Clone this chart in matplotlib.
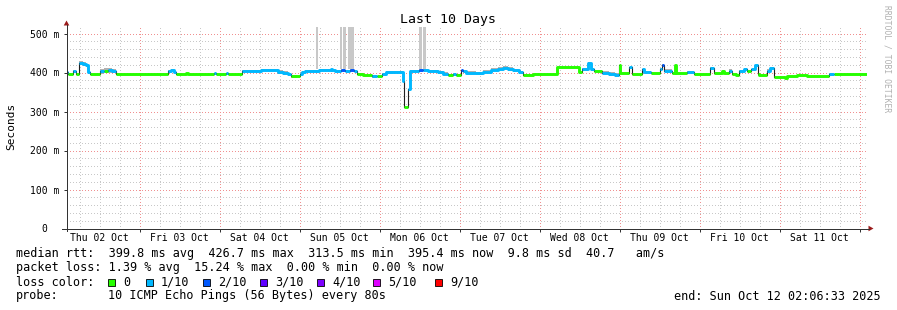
import numpy as np
import matplotlib
matplotlib.use('Agg')
import matplotlib.pyplot as plt
from matplotlib.lines import Line2D
from matplotlib.patches import Polygon, Rectangle

plt.rcParams['font.family'] = 'DejaVu Sans Mono'
plt.rcParams['lines.scale_dashes'] = False

# ===== Data (time in hours since Thu 02 Oct 00:00) =====
t_start = 2.1
t_end = 242.1

seg_t = [2.11, 2.41, 3.91, 4.81, 5.92, 6.91, 7.81, 8.41, 9.01, 12.01,
         13.21, 14.41, 15.61, 16.81, 32.41, 33.31, 34.21, 34.81, 37.96, 38.41,
         46.36, 46.81, 49.81, 50.41, 54.61, 60.31, 65.41, 66.91, 68.41, 69.31,
         71.11, 72.01, 72.61, 73.51, 77.71, 81.31, 81.61, 82.51, 84.31, 85.51,
         87.01, 88.21, 89.11, 90.91, 93.61, 95.11, 96.61, 97.81, 99.91, 102.91,
         103.21, 104.41, 105.01, 107.71, 108.91, 110.41, 113.41, 114.91, 116.41, 117.91,
         118.81, 120.31, 120.91, 121.81, 124.81, 126.91, 129.31, 131.41, 132.91, 134.41,
         135.91, 137.71, 138.91, 141.91, 149.11, 153.91, 155.71, 156.61, 158.41, 159.31,
         160.21, 162.61, 164.71, 166.51, 167.71, 168.01, 170.71, 171.61, 174.61, 175.21,
         177.31, 180.01, 180.61, 181.21, 183.61, 184.51, 184.81, 188.11, 190.21, 195.01,
         196.21, 198.61, 199.21, 200.71, 201.61, 202.81, 203.71, 205.21, 206.11, 207.31,
         208.51, 209.41, 209.71, 212.11, 213.01, 214.21, 217.51, 218.11, 221.11, 224.11,
         230.71, 232.21]
seg_rtt = [401, 396, 403, 395, 424, 422, 418, 401, 395, 403,
           405, 406, 403, 395, 403, 406, 402, 395, 400, 395,
           398, 395, 400, 395, 405, 406, 401, 398, 395, 390,
           391, 397, 401, 405, 406, 408, 407, 405, 406, 405,
           406, 405, 396, 394, 390, 390, 396, 401, 402, 379,
           312, 358, 405, 406, 406, 405, 401, 397, 394, 395,
           393, 407, 403, 399, 398, 402, 407, 410, 412, 409,
           406, 401, 393, 397, 415, 414, 402, 408, 425, 408,
           403, 399, 396, 393, 420, 399, 413, 397, 408, 401,
           399, 410, 420, 405, 399, 418, 399, 402, 397, 411,
           400, 404, 399, 405, 397, 394, 405, 410, 405, 408,
           418, 395, 393, 405, 411, 388, 385, 390, 394, 390,
           395, 396]
seg_loss = [1, 0, 1, 0, 1, 1, 1, 1, 0, 1,
            0, 1, 1, 0, 1, 1, 1, 0, 0, 0,
            1, 0, 1, 0, 1, 1, 1, 1, 1, 0,
            0, 1, 1, 1, 1, 1, 1, 1, 2, 1,
            2, 1, 0, 0, 1, 0, 1, 1, 1, 1,
            0, 1, 1, 2, 1, 1, 1, 1, 0, 1,
            0, 2, 1, 1, 1, 1, 1, 1, 1, 1,
            1, 1, 0, 0, 0, 0, 0, 1, 1, 1,
            0, 1, 1, 1, 0, 0, 1, 0, 1, 1,
            0, 1, 2, 1, 0, 0, 0, 1, 0, 1,
            0, 0, 0, 1, 0, 0, 1, 1, 0, 1,
            1, 0, 0, 1, 1, 0, 0, 0, 0, 0,
            1, 0]
seg_smoke = [3, 0, 3, 0, 5, 5, 4, 3, 0, 6,
             6, 6, 5, 0, 3, 3, 3, 0, 0, 0,
             0, 0, 0, 0, 2, 2, 5, 5, 4, 3,
             0, 4, 4, 2, 2, 2, 0, 2, 2, 2,
             2, 2, 3, 0, 3, 0, 4, 4, 3, 0,
             0, 0, 2, 2, 2, 2, 4, 4, 3, 3,
             2, 0, 3, 4, 4, 4, 4, 4, 4, 4,
             4, 4, 2, 0, 0, 0, 0, 3, 3, 3,
             0, 4, 5, 5, 0, 0, 2, 0, 0, 3,
             0, 2, 2, 4, 0, 0, 0, 2, 0, 2,
             0, 0, 0, 3, 0, 0, 2, 2, 0, 2,
             2, 0, 0, 3, 3, 0, 0, 0, 0, 0,
             3, 0]

spike_t0 = [76.81, 84.0, 84.91, 86.41, 107.71, 108.91]
spike_t1 = [77.41, 84.61, 85.91, 88.21, 108.61, 109.81]
spike_low = 408

loss_labels = ['0', '1/10', '2/10', '3/10', '4/10', '5/10', '9/10']
loss_colors = ['#26ff00', '#00b8ff', '#0059ff', '#5e00ff', '#7e00ff', '#dd00ff', '#ff0000']

day_labels = ['Thu 02 Oct', 'Fri 03 Oct', 'Sat 04 Oct', 'Sun 05 Oct', 'Mon 06 Oct',
              'Tue 07 Oct', 'Wed 08 Oct', 'Thu 09 Oct', 'Fri 10 Oct', 'Sat 11 Oct']
y_ticks = [0, 100, 200, 300, 400, 500]
y_ticklabels = ['0  ', '100 m', '200 m', '300 m', '400 m', '500 m']

W, H = 897, 310
X0, Y0, YTOP = 66.5, 228.5, 26.5   # plot area in pixels (pixel centres)


def px(x, y):
    return x / W, 1 - y / H


fig = plt.figure(figsize=(W / 100, H / 100), dpi=100)
fig.patch.set_facecolor('white')
ax = fig.add_axes([X0 / W, (H - Y0) / H, 800 / W, (Y0 - YTOP) / H])
ax.set_xlim(t_start, t_end)
ax.set_ylim(0, (Y0 - YTOP) / 0.39)
for s in ax.spines.values():
    s.set_visible(False)

# grid: minor every 6 h / 20 ms in grey, major at midnight / 100 ms in red
dots = (0.36, (0.72, 1.44))
for h in range(6, 243, 6):
    col = '#f09090' if h % 24 == 0 else '#c8c8c8'
    ax.axvline(h, color=col, lw=0.72, ls=dots, zorder=0)
for v in range(20, 518, 20):
    col = '#f09090' if v % 100 == 0 else '#c8c8c8'
    ax.axhline(v, color=col, lw=0.72, ls=dots, zorder=0)

ts = np.array(seg_t + [t_end])
vs = np.array(seg_rtt + [seg_rtt[-1]], dtype=float)
ls_ = np.array(seg_loss + [seg_loss[-1]])
sm = np.array(seg_smoke + [seg_smoke[-1]], dtype=float)

# smoke
ax.fill_between(ts, vs - sm, vs + sm, step='post', color='#b0b0b0', lw=0, zorder=1)
for a, b in zip(spike_t0, spike_t1):
    ax.bar(a, 600 - spike_low, width=b - a, bottom=spike_low, align='edge',
           color='#c8c8c8', lw=0, zorder=1)

# median line
ax.step(ts, vs, where='post', color='#202020', lw=0.8, zorder=2)
for i, c in enumerate(loss_colors):
    yy = np.where(ls_ == i, vs, np.nan)
    if np.all(np.isnan(yy)):
        continue
    ax.step(ts, yy, where='post', color=c, lw=2.1, zorder=3, solid_capstyle='butt')

# ticks
ax.set_yticks(y_ticks)
ax.set_yticklabels(y_ticklabels)
ax.set_xticks([12 + 24 * i for i in range(10)])
ax.set_xticklabels(day_labels)
ax.tick_params(axis='x', length=0, pad=3, labelsize=7)
ax.tick_params(axis='y', length=2.5, width=0.72, pad=2.5, labelsize=7, color='#333333')
ax.set_xticks([24 * i for i in range(1, 11)], minor=True)
ax.tick_params(axis='x', which='minor', length=2, width=0.72, color='#333333')

# axis lines with arrows
fig.add_artist(Line2D([px(62, 0)[0], px(869, 0)[0]], [px(0, Y0)[1]] * 2, color='#333333', lw=0.72))
fig.add_artist(Line2D([px(X0, 0)[0]] * 2, [px(0, 231)[1], px(0, 25)[1]], color='#333333', lw=0.72))
fig.add_artist(Polygon([px(868.5, 225.7), px(868.5, 231.3), px(873.5, Y0)], closed=True,
                       color='#9b1b1b', lw=0))
fig.add_artist(Polygon([px(63.7, 25.5), px(69.3, 25.5), px(X0, 20.5)], closed=True,
                       color='#9b1b1b', lw=0))

# texts
fig.text(*px(448, 19), 'Last 10 Days', ha='center', va='center', fontsize=9.5)
fig.text(*px(11, 126), 'Seconds', ha='center', va='center', rotation=90, fontsize=8)
fig.text(*px(887, 59), 'RRDTOOL / TOBI OETIKER', ha='center', va='center', rotation=270,
         fontsize=5.8, color='#b0b0b0')

fs = 8.5
fig.text(*px(16, 254), 'median rtt:  399.8 ms avg  426.7 ms max  313.5 ms min  395.4 ms now  9.8 ms sd  40.7   am/s',
         ha='left', va='center', fontsize=fs)
fig.text(*px(16, 268), 'packet loss: 1.39 % avg  15.24 % max  0.00 % min  0.00 % now',
         ha='left', va='center', fontsize=fs)
fig.text(*px(16, 282), 'loss color:', ha='left', va='center', fontsize=fs)
box_x = [108, 146, 203, 260, 317, 373, 435]
for bx, lab, c in zip(box_x, loss_labels, loss_colors):
    x0, y0 = px(bx, 285.5)
    fig.add_artist(Rectangle((x0, y0), 7 / W, 7 / H, facecolor=c, edgecolor='black', lw=0.6))
    fig.text(*px(bx + 15, 282), lab, ha='left', va='center', fontsize=fs)
fig.text(*px(16, 296), 'probe:', ha='left', va='center', fontsize=fs)
fig.text(*px(108, 296), '10 ICMP Echo Pings (56 Bytes) every 80s', ha='left', va='center', fontsize=fs)
fig.text(*px(881, 296), 'end: Sun Oct 12 02:06:33 2025', ha='right', va='center', fontsize=fs)

fig.savefig('out.png', dpi=100, facecolor='white')
